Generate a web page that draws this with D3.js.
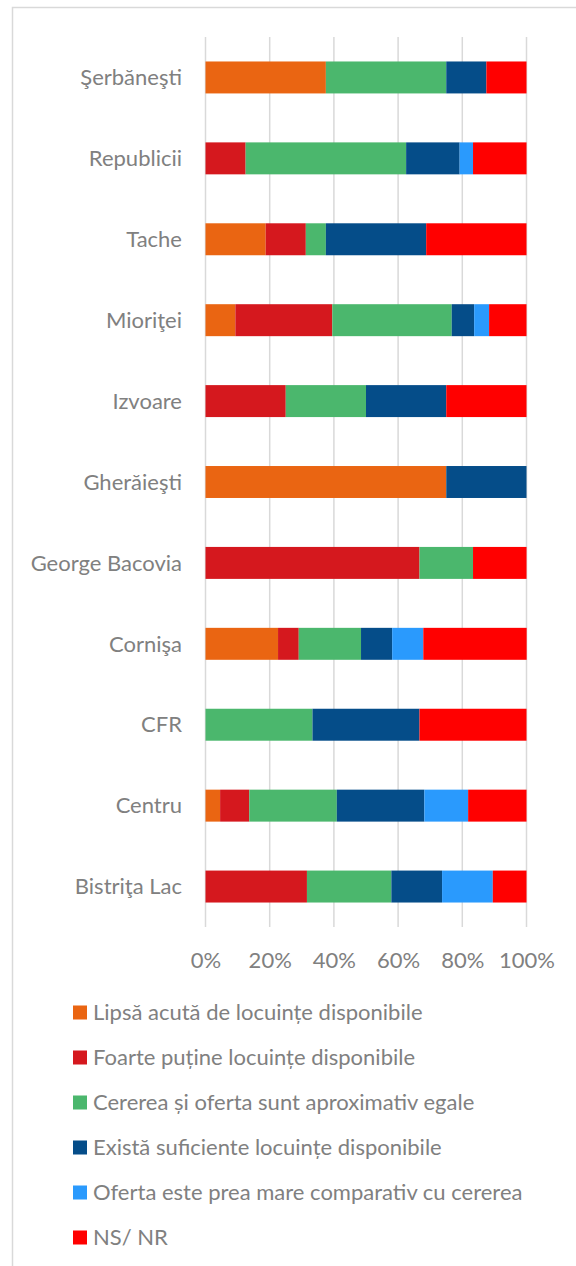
<!DOCTYPE html>
<html lang="ro">
<head>
<meta charset="UTF-8">
<style>
    body { margin: 0; background: #fff; }
    text { font-family: Lato, "Open Sans", sans-serif; fill: #808080; }
    .grid line { stroke: #d9d9d9; stroke-width: 1.5px; }
</style>
<title>Disponibilitate locuinte</title>
</head>
<body>
<div id="chart"></div>
<script src="https://cdn.jsdelivr.net/npm/d3@7/dist/d3.min.js"></script>
<script>
    var width = 576, height = 1266;

    var cartiere = ["Şerbăneşti", "Republicii", "Tache", "Mioriţei", "Izvoare", "Gherăieşti",
        "George Bacovia", "Cornişa", "CFR", "Centru", "Bistriţa Lac"];

    var serii = ["Lipsă acută de locuințe disponibile",
        "Foarte puține locuințe disponibile",
        "Cererea și oferta sunt aproximativ egale",
        "Există suficiente locuințe disponibile",
        "Oferta este prea mare comparativ cu cererea",
        "NS/ NR"];

    var culori = ["#ea6512", "#d5181e", "#4bb76d", "#054d89", "#2a9afd", "#ff0000"];

    // procente pe cartier, in ordinea seriilor
    var lipsa      = [37.5, 0,    18.75, 9.3,  0,  75, 0,     22.6, 0,    4.55,  0];
    var putine     = [0,    12.5, 12.5,  30.2, 25, 0,  66.67, 6.45, 0,    9.09,  31.6];
    var egale      = [37.5, 50,   6.25,  37.2, 25, 0,  16.67, 19.4, 33.33, 27.27, 26.3];
    var suficiente = [12.5, 16.67, 31.25, 7.0, 25, 25, 0,     9.7,  33.33, 27.27, 15.8];
    var prea       = [0,    4.17, 0,     4.65, 0,  0,  0,     9.7,  0,    13.64, 15.8];
    var nsnr       = [12.5, 16.67, 31.25, 11.65, 25, 0, 16.67, 32.2, 33.34, 18.18, 10.5];

    var ticks = [0, 20, 40, 60, 80, 100];

    var valori = [lipsa, putine, egale, suficiente, prea, nsnr];

    var rows = cartiere.map(function (c, i) {
        var r = { cartier: c };
        serii.forEach(function (s, j) { r[s] = valori[j][i]; });
        return r;
    });

    var svg = d3.select("#chart").append("svg")
        .attr("width", width)
        .attr("height", height);

    // rama
    svg.append("path")
        .attr("d", "M12.5," + height + "V7.5H" + width)
        .attr("fill", "none")
        .attr("stroke", "#d9d9d9")
        .attr("stroke-width", 1.5);

    var x = d3.scaleLinear().domain([0, 100]).range([205.5, 526.5]);
    var y = d3.scaleBand().domain(cartiere).range([37, 927])
        .paddingInner(0.605).paddingOuter(0.3025);

    svg.append("g").attr("class", "grid")
        .selectAll("line")
        .data(ticks)
        .enter().append("line")
        .attr("x1", function (d) { return x(d); })
        .attr("x2", function (d) { return x(d); })
        .attr("y1", 37)
        .attr("y2", 927);

    var stack = d3.stack().keys(serii)(rows);

    svg.append("g").selectAll("g")
        .data(stack)
        .enter().append("g")
        .attr("fill", function (d, i) { return culori[i]; })
        .selectAll("rect")
        .data(function (d) { return d; })
        .enter().append("rect")
        .attr("x", function (d) { return x(d[0]); })
        .attr("width", function (d) { return x(d[1]) - x(d[0]); })
        .attr("y", function (d) { return y(d.data.cartier); })
        .attr("height", y.bandwidth());

    // etichete cartiere
    svg.append("g").selectAll("text")
        .data(cartiere)
        .enter().append("text")
        .attr("x", 182)
        .attr("y", function (d) { return y(d) + y.bandwidth() / 2; })
        .attr("dy", "0.35em")
        .attr("text-anchor", "end")
        .style("font-size", "22px")
        .text(function (d) { return d; });

    // axa x
    var axa = svg.append("g")
        .attr("transform", "translate(0,927)")
        .call(d3.axisBottom(x).tickValues(ticks).tickSize(0).tickPadding(0)
            .tickFormat(function (d) { return d + "%"; }));
    axa.select(".domain").remove();
    axa.selectAll("text")
        .attr("y", 33)
        .attr("dy", "0.35em")
        .style("font-size", "22px")
        .style("font-family", "Lato, sans-serif")
        .attr("fill", "#808080");

    // legenda
    var leg = svg.append("g").selectAll("g")
        .data(serii)
        .enter().append("g")
        .attr("transform", function (d, i) { return "translate(73," + (1012.5 + i * 45) + ")"; });

    leg.append("rect")
        .attr("x", 0).attr("y", -7)
        .attr("width", 14).attr("height", 14)
        .attr("fill", function (d, i) { return culori[i]; });

    leg.append("text")
        .attr("x", 20)
        .attr("dy", "0.35em")
        .style("font-size", "22px")
        .text(function (d) { return d; });
</script>
</body>
</html>
